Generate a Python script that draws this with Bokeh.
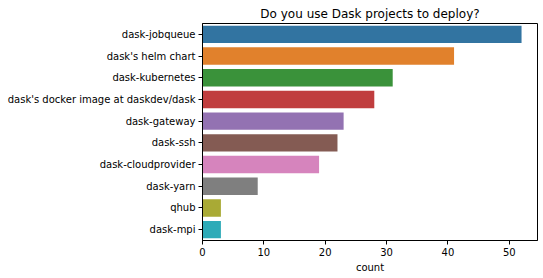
from bokeh.plotting import figure
from bokeh.models import Range1d, FixedTicker
from bokeh.embed import file_html
from bokeh.resources import INLINE

categories = ["dask-jobqueue", "dask's helm chart", "dask-kubernetes",
              "dask's docker image at daskdev/dask", "dask-gateway", "dask-ssh",
              "dask-cloudprovider", "dask-yarn", "qhub", "dask-mpi"]
counts = [52, 41, 31, 28, 23, 22, 19, 9, 3, 3]
colors = ["#3274a1", "#e1812c", "#3a923a", "#c03d3e", "#9372b2",
          "#845b53", "#d684bd", "#7f7f7f", "#a9aa35", "#2eabb8"]
x_ticks = [0, 10, 20, 30, 40, 50]

FONT = "DejaVu Sans"

positions = list(range(len(categories)))

p = figure(width=543, height=278, output_backend="svg", toolbar_location=None,
           y_range=Range1d(len(categories) - 0.5, -0.5),
           x_range=Range1d(0, max(counts) * 1.05),
           min_border_left=202, min_border_right=6, min_border_top=23,
           min_border_bottom=38)

p.hbar(y=positions, right=counts, left=0, height=0.8,
       fill_color=colors, line_color=None)

p.title.text = "Do you use Dask projects to deploy?"
p.title.align = "center"
p.title.text_font = FONT
p.title.text_font_size = "12px"
p.title.text_font_style = "normal"
p.title.text_color = "black"
p.title.standoff = 5

p.xgrid.visible = False
p.ygrid.visible = False
p.outline_line_color = "black"
p.outline_line_width = 1
p.background_fill_color = "white"
p.border_fill_color = "white"

xa = p.xaxis[0]
xa.ticker = FixedTicker(ticks=x_ticks)
xa.axis_label = "count"
xa.axis_label_text_font = FONT
xa.axis_label_text_font_size = "10px"
xa.axis_label_text_font_style = "normal"
xa.axis_label_text_color = "black"
xa.axis_label_standoff = 3
xa.major_label_text_font = FONT
xa.major_label_text_font_size = "10px"
xa.major_label_text_color = "black"
xa.major_label_standoff = 3
xa.major_tick_out = 4
xa.major_tick_in = 0
xa.minor_tick_out = 0
xa.minor_tick_in = 0
xa.axis_line_color = "black"
xa.major_tick_line_color = "black"

ya = p.yaxis[0]
ya.ticker = FixedTicker(ticks=positions)
ya.major_label_overrides = {i: c for i, c in zip(positions, categories)}
ya.major_label_text_font = FONT
ya.major_label_text_font_size = "10px"
ya.major_label_text_color = "black"
ya.major_label_standoff = 3
ya.major_tick_out = 4
ya.major_tick_in = 0
ya.minor_tick_out = 0
ya.minor_tick_in = 0
ya.axis_line_color = "black"
ya.major_tick_line_color = "black"

open("out.html", "w").write(file_html(p, INLINE))
